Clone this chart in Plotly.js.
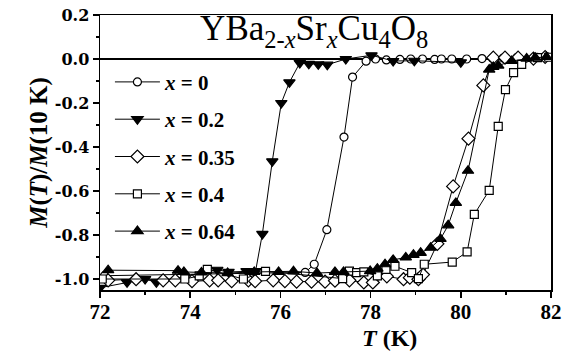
<!DOCTYPE html>
<html>
<head>
<meta charset="utf-8">
<script src="https://cdn.plot.ly/plotly-3.0.1.min.js"></script>
<style>
  html, body { margin: 0; padding: 0; background: #fff; }
  #chart { width: 579px; height: 354px; }
</style>
</head>
<body>
<div id="chart"></div>
<script>
// Normalised magnetisation M(T)/M(10 K) near the superconducting transition
// of YBa(2-x)Sr(x)Cu4O8 for several Sr contents x.

const seriesNames = ['<i>x</i> = 0', '<i>x</i> = 0.2', '<i>x</i> = 0.35', '<i>x</i> = 0.4', '<i>x</i> = 0.64'];

// x = 0
const tempX0 = [72.1, 76.55, 76.75, 77.03, 77.41, 77.6, 77.9, 78.11, 78.35, 78.65, 78.89, 79.15, 79.42, 79.57, 79.8, 80.13, 80.47, 80.7, 80.94, 81.24, 81.69, 81.91];
const magX0  = [-0.985, -0.97, -0.933, -0.776, -0.355, -0.082, -0.01, 0.0, -0.004, -0.002, 0.0, 0.0, -0.002, 0.0, 0.0, 0.0, 0.002, 0.003, 0.004, 0.006, 0.008, 0.01];

// x = 0.2
const tempX02 = [72.0, 72.6, 73.0, 73.25, 74.6, 74.85, 75.25, 75.45, 75.6, 75.82, 76.02, 76.2, 76.43, 76.63, 76.84, 77.04, 77.45, 78.02, 78.5, 78.97, 80.0];
const magX02  = [-1.04, -1.015, -1.0, -1.015, -0.958, -0.968, -0.964, -0.964, -0.795, -0.465, -0.2, -0.106, -0.018, -0.022, -0.024, -0.026, 0.0, 0.017, -0.009, -0.008, -0.015];

// x = 0.35
const tempX035 = [72.18, 72.8, 73.4, 73.67, 74.04, 74.43, 74.62, 74.92, 75.29, 75.44, 75.84, 76.1, 76.36, 76.69, 76.99, 77.21, 77.53, 77.85, 78.05, 78.36, 78.73, 78.87, 79.06, 79.16, 79.48, 79.83, 80.17, 80.5, 80.72, 80.98, 81.27, 81.61, 81.87];
const magX035  = [-1.006, -1.001, -1.006, -1.006, -1.01, -1.006, -1.006, -1.01, -1.006, -1.01, -1.006, -1.01, -1.012, -1.012, -1.012, -1.008, -1.006, -1.016, -1.016, -0.988, -1.001, -0.994, -1.001, -0.98, -0.84, -0.579, -0.362, -0.12, 0.006, 0.006, 0.006, 0.002, 0.009];

// x = 0.4
const tempX04 = [72.05, 73.88, 74.2, 74.38, 75.18, 75.67, 77.38, 77.53, 77.69, 77.85, 78.15, 78.34, 78.54, 78.91, 79.06, 79.19, 79.81, 80.14, 80.3, 80.63, 80.83, 80.99, 81.17, 81.35, 81.7, 81.95];
const magX04  = [-1.0, -1.0, -0.986, -0.956, -1.0, -0.965, -0.998, -0.964, -0.971, -0.968, -0.986, -0.956, -0.942, -0.971, -0.998, -0.933, -0.923, -0.877, -0.706, -0.597, -0.306, -0.139, -0.062, -0.024, 0.006, 0.008];

// x = 0.64
const tempX064 = [72.18, 73.73, 73.86, 74.25, 74.83, 75.42, 75.96, 76.29, 76.81, 77.21, 77.4, 77.99, 78.15, 78.32, 78.5, 78.78, 78.95, 79.11, 79.33, 79.55, 79.72, 79.89, 80.16, 80.63, 80.72, 80.83, 81.13, 81.46, 81.65, 81.9];
const magX064  = [-0.96, -0.962, -0.968, -0.97, -0.973, -0.968, -0.968, -0.965, -0.973, -0.968, -0.968, -0.964, -0.953, -0.933, -0.913, -0.902, -0.89, -0.881, -0.858, -0.818, -0.756, -0.654, -0.508, -0.048, -0.036, -0.03, -0.009, 0.002, 0.006, 0.009];

const xTickVals = [72, 74, 76, 78, 80, 82];
const yTickVals = [0.2, 0.0, -0.2, -0.4, -0.6, -0.8, -1.0];
const yTickText = ['0.2', '0.0', '-0.2', '-0.4', '-0.6', '-0.8', '-1.0'];

const SERIF = "'Liberation Serif', 'Times New Roman', serif";
const WIDE_SERIF = "'DejaVu Serif', serif";
const INK = '#000';

function series(name, xs, ys, symbol, size, filled, group) {
  return {
    type: 'scatter',
    mode: 'lines+markers',
    name: name,
    legendgroup: group,
    x: xs,
    y: ys,
    line: { color: INK, width: 1 },
    marker: {
      symbol: symbol,
      size: size,
      color: filled ? INK : '#fff',
      line: { color: INK, width: 1.2 }
    }
  };
}

const traces = [
  series(seriesNames[0], tempX0, magX0, 'circle', 8, false, 'a'),
  series(seriesNames[1], tempX02, magX02, 'triangle-down', 10, true, 'b'),
  series(seriesNames[2], tempX035, magX035, 'diamond', 10, false, 'c'),
  series(seriesNames[3], tempX04, magX04, 'square', 8, false, 'd'),
  series(seriesNames[4], tempX064, magX064, 'triangle-up', 10, true, 'e')
];

const layout = {
  width: 579,
  height: 354,
  margin: { l: 100, r: 28, t: 15, b: 64 },
  paper_bgcolor: '#fff',
  plot_bgcolor: '#fff',
  font: { family: SERIF, color: INK },
  showlegend: true,
  title: {
    text: 'YBa<sub>2-<i>x</i></sub>Sr<sub><i>x</i></sub>Cu<sub>4</sub>O<sub>8</sub>',
    font: { family: SERIF, size: 35, color: INK },
    xref: 'paper', x: 0.222, xanchor: 'left',
    yref: 'container', y: 0.955, yanchor: 'top'
  },
  legend: {
    x: 0.022, xanchor: 'left',
    y: 0.83, yanchor: 'top',
    bgcolor: 'rgba(0,0,0,0)',
    borderwidth: 0,
    itemwidth: 45,
    tracegroupgap: 7,
    font: { family: SERIF, size: 21, color: INK, weight: 'bold' }
  },
  xaxis: {
    range: [72, 82],
    tickvals: xTickVals,
    ticks: 'outside', ticklen: 6, tickwidth: 1.5, tickcolor: INK,
    minor: { dtick: 1, tick0: 72, ticks: 'outside', ticklen: 3, tickwidth: 1.5, tickcolor: INK },
    showline: true, linecolor: INK, linewidth: 1.5, mirror: true,
    showgrid: false, zeroline: false,
    tickfont: { family: SERIF, size: 21, color: INK, weight: 'bold' },
    ticklabelstandoff: -4
  },
  yaxis: {
    range: [-1.05, 0.2],
    tickvals: yTickVals,
    ticktext: yTickText,
    ticks: 'outside', ticklen: 6, tickwidth: 1.5, tickcolor: INK,
    minor: { dtick: 0.1, tick0: 0, ticks: 'outside', ticklen: 3, tickwidth: 1.5, tickcolor: INK },
    showline: true, linecolor: INK, linewidth: 1.5, mirror: true,
    showgrid: false,
    zeroline: true, zerolinecolor: INK, zerolinewidth: 1.2,
    tickfont: { family: WIDE_SERIF, size: 16, color: INK, weight: 'bold' },
    title: {
      text: '<i>M</i>(<i>T</i>)/<i>M</i>(10 K)',
      font: { family: SERIF, size: 25, color: INK, weight: 'bold' },
      standoff: 0
    }
  },
  annotations: [{
    // x-axis title, set right of centre
    text: '<i>T</i> (K)',
    xref: 'paper', x: 0.643, xanchor: 'center',
    yref: 'paper', y: -0.175, yanchor: 'middle',
    showarrow: false,
    font: { family: SERIF, size: 24, color: INK, weight: 'bold' }
  }]
};

Plotly.newPlot('chart', traces, layout, { staticPlot: true, displayModeBar: false });
</script>
</body>
</html>
